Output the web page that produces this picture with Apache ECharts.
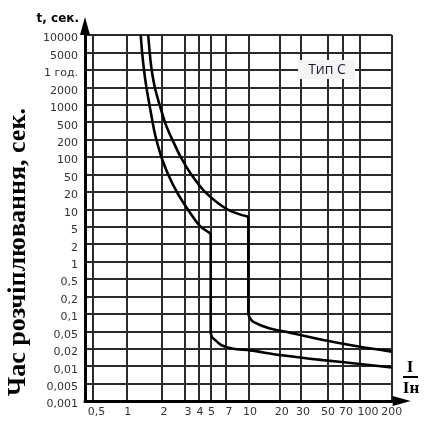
<!doctype html>
<html>
<head>
<meta charset="UTF-8">
<title>Тип C</title>
<script src="https://cdn.jsdelivr.net/npm/echarts@6/dist/echarts.min.js"></script>
<style>
html, body { margin: 0; padding: 0; background: #fff; }
#main { width: 430px; height: 428px; }
</style>
</head>
<body>
<div id="main"></div>
<script>
// поділки осі струму, I/Iн
var xTicks = [0.5, 1, 2, 3, 4, 5, 7, 10, 20, 30, 50, 70, 100, 200];
var xLabels = ['0,5', '1', '2', '3', '4', '5', '7', '10', '20', '30', '50', '70', '100', '200'];

// поділки осі часу, с (1 год. = 3600 с)
var yTicks = [0.001, 0.005, 0.01, 0.02, 0.05, 0.1, 0.2, 0.5, 1, 2, 5, 10, 20, 50, 100, 200, 500, 1000, 2000, 3600, 5000, 10000];
var yLabels = ['0,001', '0,005', '0,01', '0,02', '0,05', '0,1', '0,2', '0,5', '1', '2', '5', '10', '20', '50', '100', '200', '500', '1000', '2000', '1 год.', '5000', '10000'];

// верхня межа характеристики (I/Iн, t)
var upperI = [1.53, 1.58, 1.64, 1.75, 1.92, 2.09, 2.23, 2.41, 2.79, 3.39, 4.48, 7.2, 10, 10, 10.25, 11.2, 16.2, 24.4, 46, 100, 200];
var upperT = [10000, 4900, 3550, 1950, 990, 543, 331, 198, 99, 51, 20, 10, 7.4, 0.109, 0.088, 0.073, 0.056, 0.0465, 0.0316, 0.0221, 0.0178];

// нижня межа характеристики (I/Iн, t)
var lowerI = [1.32, 1.36, 1.41, 1.48, 1.57, 1.72, 1.8, 1.99, 2.23, 2.6, 3.17, 4.08, 5, 5, 5.15, 5.5, 6.4, 7.9, 10.4, 20.2, 45.7, 100, 200];
var lowerT = [10000, 4900, 3550, 1950, 990, 330, 198, 99, 51, 20, 10, 5.1, 3.5, 0.049, 0.037, 0.032, 0.024, 0.02, 0.0187, 0.0156, 0.0127, 0.0109, 0.0095];

// бланк нерівномірний: де стоять поділки X на шкалі та підписи під ними
var xScale = [7.7, 41.7, 76.7, 100, 114, 125.7, 140.5, 163.3, 194.3, 216, 242.7, 257.7, 275, 306.7];
var xLabelAt = [11.5, 42.7, 79, 103, 115, 126.5, 144, 165, 196.7, 218, 243, 261, 283, 306.7];
var yScale = yTicks.map(function (v, i) { return i; });

// лог-інтерполяція між сусідніми поділками
function scalePos(v, ticks, pos) {
    for (var i = 0; i < ticks.length - 1; i++) {
        if (v <= ticks[i + 1] || i == ticks.length - 2) {
            var f = Math.log(v / ticks[i]) / Math.log(ticks[i + 1] / ticks[i]);
            return pos[i] + f * (pos[i + 1] - pos[i]);
        }
    }
}

function curve(iArr, tArr) {
    return iArr.map(function (v, k) {
        return [scalePos(v, xTicks, xScale), scalePos(tArr[k], yTicks, yScale)];
    });
}

// ділимо криву на злам (початок вертикального відрізка), щоб кут лишився гострим
function splitAtKink(iArr, tArr) {
    var pts = curve(iArr, tArr);
    var k = 1;
    while (k < iArr.length - 1 && iArr[k] != iArr[k + 1]) k++;
    return [pts.slice(0, k + 1), pts.slice(k)];
}

var upperParts = splitAtKink(upperI, upperT);
var lowerParts = splitAtKink(lowerI, lowerT);

var myChart = echarts.init(document.getElementById('main'));

var gridLine = { show: true, lineStyle: { color: '#2b2b2b', width: 2 } };
var tickFont = { color: '#333', fontFamily: 'DejaVu Sans', fontSize: 11 };

function part(name, data) {
    return {
        name: name, type: 'line', data: data, smooth: 0.3,
        showSymbol: false, lineStyle: { color: '#000', width: 2.6 }, z: 5
    };
}

var option = {
    backgroundColor: '#fff',
    animation: false,
    grid: { left: 85, right: 38.3, top: 35, bottom: 27 },
    xAxis: {
        type: 'value',
        min: 0,
        max: xScale[xScale.length - 1],
        axisLine: {
            show: true, onZero: false,
            lineStyle: { color: '#000', width: 3 },
            symbol: ['none', 'triangle'], symbolSize: [10, 18], symbolOffset: [0, 10]
        },
        axisTick: { show: false, customValues: xScale },
        axisLabel: Object.assign({
            customValues: xLabelAt,
            margin: 6,
            formatter: function (v) {
                var best = 0;
                for (var i = 1; i < xLabelAt.length; i++) {
                    if (Math.abs(xLabelAt[i] - v) < Math.abs(xLabelAt[best] - v)) best = i;
                }
                return xLabels[best];
            }
        }, tickFont),
        splitLine: gridLine
    },
    yAxis: {
        type: 'value',
        min: 0,
        max: yTicks.length - 1,
        interval: 1,
        axisLine: {
            show: true, onZero: false,
            lineStyle: { color: '#000', width: 3 },
            symbol: ['none', 'triangle'], symbolSize: [10, 18], symbolOffset: [0, 9]
        },
        axisTick: { show: false },
        axisLabel: Object.assign({
            margin: 7,
            verticalAlign: 'top',
            lineHeight: 7,
            formatter: function (v) { return yLabels[Math.round(v)]; }
        }, tickFont),
        splitLine: gridLine
    },
    graphic: [
        {
            type: 'text', x: 79, y: 19,
            style: { text: 't, сек.', align: 'right', verticalAlign: 'middle', fill: '#000',
                     fontFamily: 'DejaVu Sans', fontWeight: 'bold', fontSize: 12 }
        },
        {
            type: 'text', x: 18, y: 252, rotation: Math.PI / 2,
            style: { text: 'Час розчіплювання, сек.', align: 'center', verticalAlign: 'middle', fill: '#000',
                     fontFamily: 'Liberation Serif', fontWeight: 'bold', fontSize: 26 }
        },
        {
            type: 'rect', shape: { x: 298, y: 60, width: 57, height: 19 },
            style: { fill: '#f4f4f4' }, z: 10
        },
        {
            type: 'text', x: 327, y: 70, z: 11,
            style: { text: 'Тип С', align: 'center', verticalAlign: 'middle', fill: '#1c1c3a',
                     fontFamily: 'Open Sans', fontSize: 14 }
        },
        {
            type: 'text', x: 410, y: 368,
            style: { text: 'I', align: 'center', verticalAlign: 'middle', fill: '#000',
                     fontFamily: 'Liberation Serif', fontWeight: 'bold', fontSize: 17 }
        },
        {
            type: 'line', shape: { x1: 403, y1: 377, x2: 418, y2: 377 },
            style: { stroke: '#000', lineWidth: 2 }
        },
        {
            type: 'text', x: 411, y: 389,
            style: { text: 'Iн', align: 'center', verticalAlign: 'middle', fill: '#000',
                     fontFamily: 'Liberation Serif', fontWeight: 'bold', fontSize: 17 }
        }
    ],
    series: [
        part('верхня', upperParts[0]),
        part('верхня', upperParts[1]),
        part('нижня', lowerParts[0]),
        part('нижня', lowerParts[1])
    ]
};

myChart.setOption(option);
</script>
</body>
</html>
